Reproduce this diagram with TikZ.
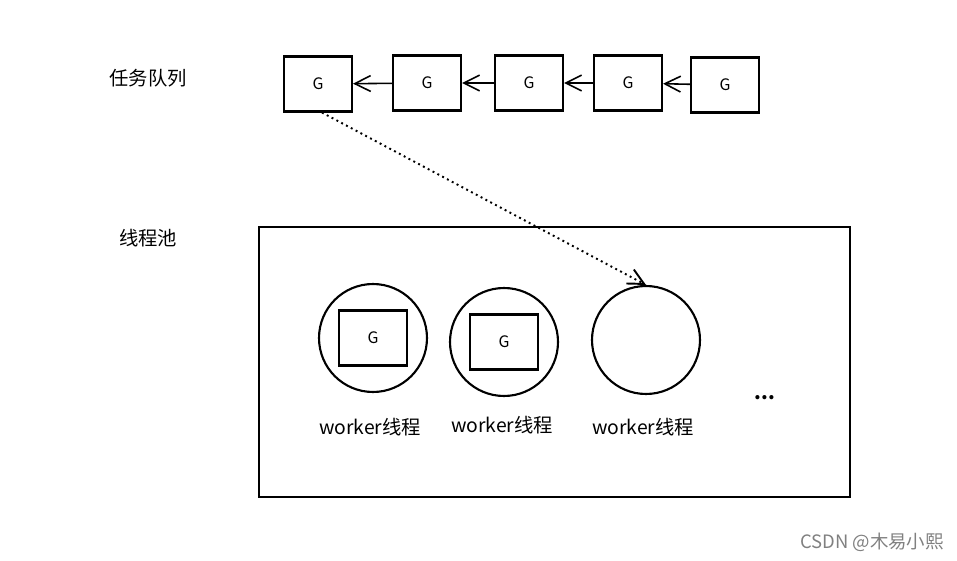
\documentclass[tikz,border=0pt]{standalone}
\usepackage{fontspec}
\setmainfont{Noto Sans CJK SC}
\usetikzlibrary{arrows.meta}

\tikzset{
  gbox/.style={draw,line width=1.2pt,minimum width=1.36cm,minimum height=1.1cm,inner sep=0pt,font=\small},
  worker/.style={draw,circle,line width=1.2pt,minimum size=2.16cm,inner sep=0pt},
  link/.style={line width=0.9pt,-{Straight Barb[length=9pt,width=9pt]}},
  label/.style={font=\fontsize{11}{13}\selectfont},
}

\begin{document}
\begin{tikzpicture}[x=0.02cm,y=-0.02cm]

\useasboundingbox (0,0) rectangle (957,561);

% queue
\node[label] (lq) at (148,78) {任务队列};

\node[gbox] (q1) at (318,84) {G};
\node[gbox] (q2) at (427,83) {G};
\node[gbox] (q3) at (529,83) {G};
\node[gbox] (q4) at (628,83) {G};
\node[gbox] (q5) at (725,85) {G};

\draw[link] (q2) -- (q1);
\draw[link] (q3) -- (q2);
\draw[link] (q4) -- (q3);
\draw[link] (q5) -- (q4);

% pool
\node[label] (lp) at (148,238) {线程池};
\node[draw,line width=1.1pt,minimum width=11.82cm,minimum height=5.4cm,inner sep=0pt] (pool) at (554.5,362) {};

\node[worker] (w1) at (373,338) {};
\node[worker] (w2) at (504,342) {};
\node[worker] (w3) at (646,340) {};

\node[gbox] (g1) at (w1) {G};
\node[gbox] (g2) at (w2) {G};

\node[label] (t1) at (370,427) {worker线程};
\node[label] (t2) at (502,425) {worker线程};
\node[label] (t3) at (643,427) {worker线程};

\node[label] (more) at (765,398) {\textbf{...}};

\draw[link,line width=1.1pt,dotted] (q1.south) ++(4,0) coordinate (s) (s) -- (w3.north);

\node[text=gray,font=\fontsize{10.5}{12}\selectfont] (mark) at (872,542) {CSDN @木易小熙};

\end{tikzpicture}
\end{document}
